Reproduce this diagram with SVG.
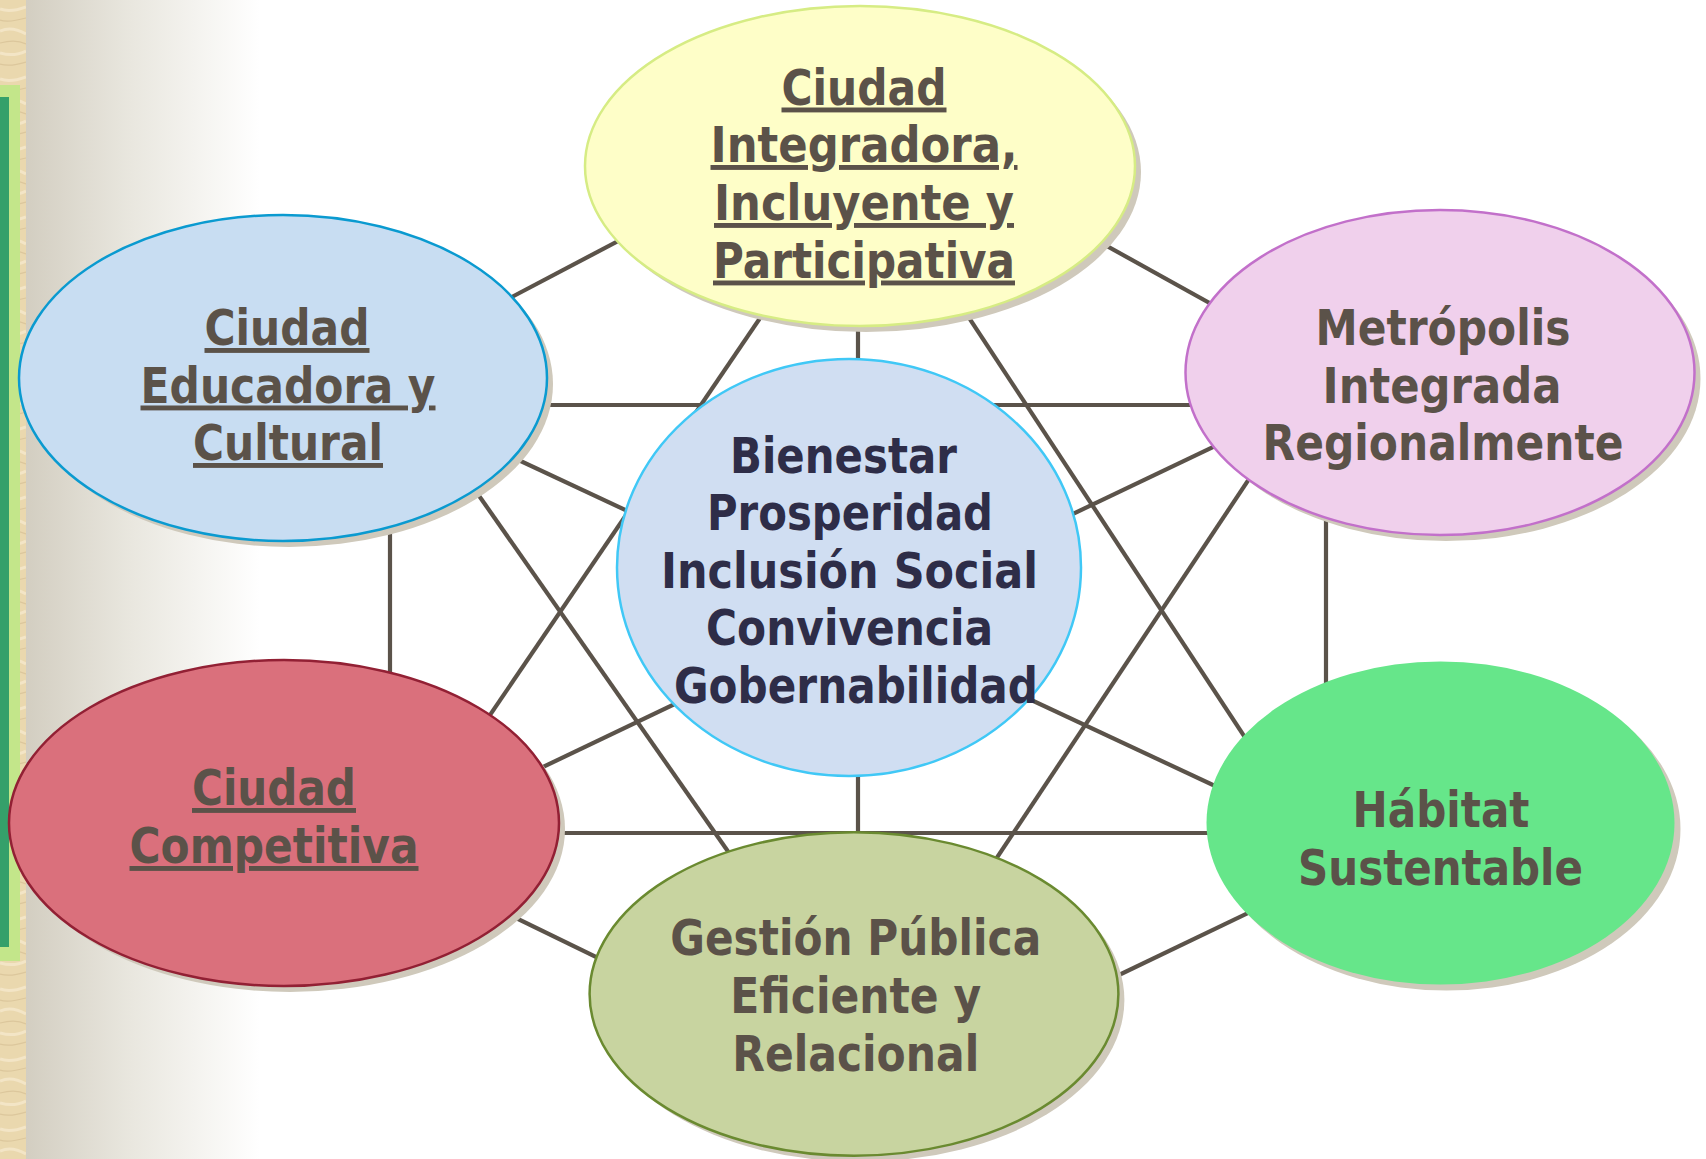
<svg xmlns="http://www.w3.org/2000/svg" width="1706" height="1159" viewBox="0 0 1706 1159">
<defs>
<linearGradient id="bg" x1="26" y1="0" x2="260" y2="0" gradientUnits="userSpaceOnUse">
<stop offset="0" stop-color="#d3cec1"/>
<stop offset="0.45" stop-color="#e9e7df"/>
<stop offset="1" stop-color="#ffffff"/>
</linearGradient>
<pattern id="wood" x="0" y="0" width="26" height="70" patternUnits="userSpaceOnUse">
<rect width="26" height="70" fill="#ead8ae"/>
<path d="M0 9 Q10 13 26 7 M0 31 Q12 26 26 34 M0 53 Q14 57 26 51" stroke="#f3e5c6" stroke-width="3" fill="none"/>
<path d="M0 20 Q8 23 26 18 M0 43 Q16 39 26 44 M0 64 Q10 67 26 62" stroke="#dcc79c" stroke-width="1.2" fill="none"/>
</pattern>
<style>
.ln{stroke:#5b534a;stroke-width:4.2;fill:none}
.sh{fill:#cfc9bb}
.t{font-family:"DejaVu Sans","Noto Sans",sans-serif;font-weight:bold;font-size:49px;fill:#5b5249;text-anchor:middle}
.u{text-decoration:underline}
.c{fill:#2e2d48}
</style>
</defs>
<rect width="1706" height="1159" fill="#ffffff"/>
<rect x="26" y="0" width="260" height="1159" fill="url(#bg)"/>
<rect x="0" y="0" width="26" height="1159" fill="url(#wood)"/>
<rect x="0" y="85" width="20" height="876" fill="#c3e68a"/>
<rect x="0" y="97" width="9" height="850" fill="#35a06a"/>

<g id="connectors">
<line class="ln" x1="500" y1="405" x2="1240" y2="405"/>
<line class="ln" x1="520" y1="833" x2="1240" y2="833"/>
<line class="ln" x1="390" y1="500" x2="390" y2="700"/>
<line class="ln" x1="1326" y1="500" x2="1326" y2="700"/>
<line class="ln" x1="858" y1="300" x2="858" y2="860"/>
<line class="ln" x1="660" y1="219" x2="470" y2="319"/>
<line class="ln" x1="1060" y1="220" x2="1260" y2="331"/>
<line class="ln" x1="480" y1="442" x2="1260" y2="807"/>
<line class="ln" x1="1260" y1="424.6" x2="500" y2="787.5"/>
<line class="ln" x1="799.5" y1="260" x2="459.4" y2="760"/>
<line class="ln" x1="447" y1="450" x2="762" y2="900"/>
<line class="ln" x1="931" y1="260" x2="1273" y2="780"/>
<line class="ln" x1="1275" y1="440" x2="968.7" y2="900"/>
<line class="ln" x1="480" y1="900.5" x2="640" y2="978.4"/>
<line class="ln" x1="1290" y1="892.9" x2="1070" y2="998.5"/>
</g>

<g id="node-integradora">
<ellipse class="sh" cx="866" cy="172" rx="275" ry="160"/>
<ellipse cx="860" cy="166" rx="275" ry="160" fill="#fefec8" stroke="#d6ec84" stroke-width="2.5"/>
<text class="t u" x="864" y="104.5" textLength="165" lengthAdjust="spacingAndGlyphs">Ciudad</text>
<text class="t u" x="864" y="162" textLength="307" lengthAdjust="spacingAndGlyphs">Integradora,</text>
<text class="t u" x="864" y="220" textLength="300" lengthAdjust="spacingAndGlyphs">Incluyente y</text>
<text class="t u" x="864" y="277.5" textLength="302" lengthAdjust="spacingAndGlyphs">Participativa</text>
</g>

<g id="node-educadora">
<ellipse class="sh" cx="289" cy="384" rx="264" ry="163"/>
<ellipse cx="283" cy="378" rx="264" ry="163" fill="#c8ddf2" stroke="#0a9ad0" stroke-width="2.5"/>
<text class="t u" x="287" y="345" textLength="165" lengthAdjust="spacingAndGlyphs">Ciudad</text>
<text class="t u" x="288" y="402.5" textLength="295" lengthAdjust="spacingAndGlyphs">Educadora y</text>
<text class="t u" x="288" y="460" textLength="190" lengthAdjust="spacingAndGlyphs">Cultural</text>
</g>

<g id="node-metropolis">
<ellipse class="sh" cx="1446" cy="378.5" rx="254.5" ry="162.5"/>
<ellipse cx="1440" cy="372.5" rx="254.5" ry="162.5" fill="#f0d0ec" stroke="#c270ca" stroke-width="2.5"/>
<text class="t" x="1443" y="345" textLength="255" lengthAdjust="spacingAndGlyphs">Metrópolis</text>
<text class="t" x="1442" y="402.5" textLength="239" lengthAdjust="spacingAndGlyphs">Integrada</text>
<text class="t" x="1443" y="460" textLength="361" lengthAdjust="spacingAndGlyphs">Regionalmente</text>
</g>

<g id="node-bienestar">
<ellipse cx="849" cy="567.5" rx="232" ry="208.5" fill="#d0def2" stroke="#40c8f6" stroke-width="2.5"/>
<text class="t c" x="843.5" y="473" textLength="227" lengthAdjust="spacingAndGlyphs">Bienestar</text>
<text class="t c" x="850" y="530" textLength="286" lengthAdjust="spacingAndGlyphs">Prosperidad</text>
<text class="t c" x="849.5" y="588" textLength="377" lengthAdjust="spacingAndGlyphs">Inclusión Social</text>
<text class="t c" x="849.5" y="645" textLength="287" lengthAdjust="spacingAndGlyphs">Convivencia</text>
<text class="t c" x="856" y="703" textLength="364" lengthAdjust="spacingAndGlyphs">Gobernabilidad</text>
</g>

<g id="node-competitiva">
<ellipse class="sh" cx="290" cy="829" rx="275" ry="163"/>
<ellipse cx="284" cy="823" rx="275" ry="163" fill="#da707c" stroke="#922034" stroke-width="2.5"/>
<text class="t u" x="274" y="805" textLength="164" lengthAdjust="spacingAndGlyphs">Ciudad</text>
<text class="t u" x="274" y="863" textLength="289" lengthAdjust="spacingAndGlyphs">Competitiva</text>
</g>

<g id="node-habitat">
<ellipse class="sh" cx="1446.5" cy="829" rx="234" ry="161.5"/>
<ellipse cx="1440.5" cy="823" rx="234" ry="161.5" fill="#66e68a"/>
<text class="t" x="1441" y="827" textLength="177" lengthAdjust="spacingAndGlyphs">Hábitat</text>
<text class="t" x="1440.5" y="884.5" textLength="285" lengthAdjust="spacingAndGlyphs">Sustentable</text>
</g>

<g id="node-gestion">
<ellipse class="sh" cx="860" cy="1000" rx="264.4" ry="161.7"/>
<ellipse cx="854" cy="994" rx="264.4" ry="161.7" fill="#c8d4a0" stroke="#6a8a30" stroke-width="2.5"/>
<text class="t" x="855.7" y="955" textLength="371" lengthAdjust="spacingAndGlyphs">Gestión Pública</text>
<text class="t" x="855.7" y="1013" textLength="251" lengthAdjust="spacingAndGlyphs">Eficiente y</text>
<text class="t" x="855.7" y="1070.5" textLength="247" lengthAdjust="spacingAndGlyphs">Relacional</text>
</g>
</svg>
